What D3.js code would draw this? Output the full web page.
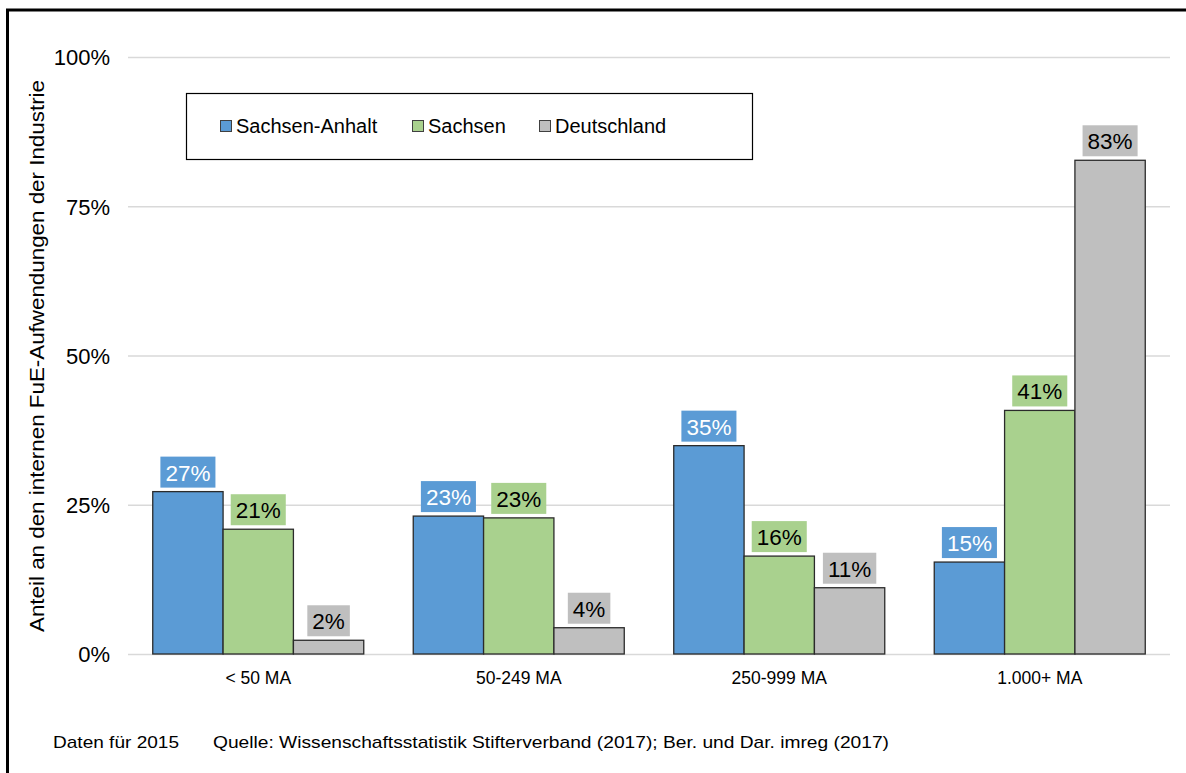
<!DOCTYPE html>
<html>
<head>
<meta charset="utf-8">
<script src="https://cdn.jsdelivr.net/npm/d3@7"></script>
<style>
  body { margin: 0; background: #fff; }
  svg { display: block; font-family: Arial, "Liberation Sans", sans-serif; }
</style>
</head>
<body>
<div id="chart-container"></div>
<script>
const categories = ["< 50 MA", "50-249 MA", "250-999 MA", "1.000+ MA"];
const seriesNames = ["Sachsen-Anhalt", "Sachsen", "Deutschland"];
const sachsenAnhalt = [27.2, 23.1, 34.9, 15.4];
const sachsen = [20.9, 22.8, 16.4, 40.8];
const deutschland = [2.3, 4.4, 11.1, 82.7];
const yTicks = [0, 25, 50, 75, 100];
const seriesColors = ["#5b9bd5", "#a9d18e", "#bfbfbf"];
const labelTextColors = ["#ffffff", "#000000", "#000000"];

function makeChart() {
    const W = 1186, H = 773;
    const margin = { top: 57, left: 128, right: 16, bottom: 119 };
    const plotW = W - margin.left - margin.right;
    const plotH = H - margin.top - margin.bottom;

    const svg = d3.select("#chart-container")
        .append("svg")
        .attr("width", W)
        .attr("height", H);

    // outer frame (runs off right and bottom edge)
    svg.append("rect")
        .attr("x", 7.5).attr("y", 10)
        .attr("width", W + 20).attr("height", H + 20)
        .attr("fill", "none")
        .attr("stroke", "#000")
        .attr("stroke-width", 3);

    const g = svg.append("g")
        .attr("transform", "translate(" + margin.left + "," + margin.top + ")");

    const x0 = d3.scaleBand().domain(categories).range([0, plotW]).paddingInner(0.19).paddingOuter(0.095);
    const x1 = d3.scaleBand().domain(seriesNames).range([0, x0.bandwidth()]);
    const y = d3.scaleLinear().domain([0, 100]).range([plotH, 0]);

    // gridlines
    g.append("g")
        .call(d3.axisLeft(y).tickValues(yTicks).tickSize(-plotW).tickFormat(d => d + "%"))
        .call(a => a.select(".domain").remove())
        .call(a => a.selectAll(".tick line").attr("stroke", "#d9d9d9").attr("stroke-width", 1.3))
        .call(a => a.selectAll(".tick text")
            .attr("x", -18).attr("dy", "0.36em")
            .attr("font-size", 22).attr("fill", "#000")
            .style("font-family", "Arial, 'Liberation Sans', sans-serif"));

    // x labels
    g.append("g")
        .attr("transform", "translate(0," + plotH + ")")
        .call(d3.axisBottom(x0).tickSize(0))
        .call(a => a.select(".domain").remove())
        .call(a => a.selectAll(".tick text")
            .attr("y", 24).attr("dy", "0.36em")
            .attr("font-size", 17.5).attr("fill", "#000")
            .style("font-family", "Arial, 'Liberation Sans', sans-serif"));

    const rows = categories.map((c, i) => ({
        category: c,
        values: [sachsenAnhalt[i], sachsen[i], deutschland[i]]
    }));

    const groups = g.selectAll(".grp")
        .data(rows)
        .enter()
        .append("g")
        .attr("class", "grp")
        .attr("transform", d => "translate(" + x0(d.category) + ",0)");

    groups.selectAll("rect.bar")
        .data(d => d.values.map((v, k) => ({ v, k })))
        .enter()
        .append("rect")
        .attr("class", "bar")
        .attr("x", d => x1(seriesNames[d.k]))
        .attr("y", d => y(d.v))
        .attr("width", x1.bandwidth())
        .attr("height", d => y(0) - y(d.v))
        .attr("fill", d => seriesColors[d.k])
        .attr("stroke", "#2b2b2b")
        .attr("stroke-width", 1.3);

    // data labels with coloured background
    const labels = groups.selectAll("g.lbl")
        .data(d => d.values.map((v, k) => ({ v, k })))
        .enter()
        .append("g")
        .attr("class", "lbl")
        .attr("transform", d => "translate(" + (x1(seriesNames[d.k]) + x1.bandwidth() / 2) + "," + (y(d.v) - 4) + ")");

    labels.each(function(d) {
        const lg = d3.select(this);
        const bg = lg.append("rect");
        const t = lg.append("text")
            .attr("text-anchor", "middle")
            .attr("y", -7)
            .attr("font-size", 22.5)
            .attr("fill", labelTextColors[d.k])
            .text(Math.round(d.v) + "%");
        const w = t.node().getComputedTextLength() + 10;
        bg.attr("x", -w / 2).attr("y", -31).attr("width", w).attr("height", 31)
            .attr("fill", seriesColors[d.k]);
    });

    // y axis title
    svg.append("text")
        .attr("transform", "translate(44,356) rotate(-90)")
        .attr("text-anchor", "middle")
        .attr("font-size", 21)
        .attr("textLength", 552)
        .attr("lengthAdjust", "spacingAndGlyphs")
        .text("Anteil an den internen FuE-Aufwendungen der Industrie");

    // legend
    const legend = svg.append("g");
    legend.append("rect")
        .attr("x", 186.5).attr("y", 93.5)
        .attr("width", 566).attr("height", 66)
        .attr("fill", "#fff").attr("stroke", "#000").attr("stroke-width", 1.2);
    const legendX = [220, 412, 539];
    seriesNames.forEach((s, k) => {
        legend.append("rect")
            .attr("x", legendX[k] + 0.5).attr("y", 120.5)
            .attr("width", 11).attr("height", 11)
            .attr("fill", seriesColors[k]).attr("stroke", "#404040").attr("stroke-width", 1);
        legend.append("text")
            .attr("x", legendX[k] + 16).attr("y", 133)
            .attr("font-size", 20)
            .text(s);
    });

    // footer
    svg.append("text")
        .attr("x", 53).attr("y", 748)
        .attr("font-size", 17)
        .attr("textLength", 126).attr("lengthAdjust", "spacingAndGlyphs")
        .text("Daten für 2015");
    svg.append("text")
        .attr("x", 213).attr("y", 748)
        .attr("font-size", 17)
        .attr("textLength", 676).attr("lengthAdjust", "spacingAndGlyphs")
        .text("Quelle:  Wissenschaftsstatistik  Stifterverband  (2017); Ber.  und  Dar.  imreg (2017)");
}
makeChart();
</script>
</body>
</html>
